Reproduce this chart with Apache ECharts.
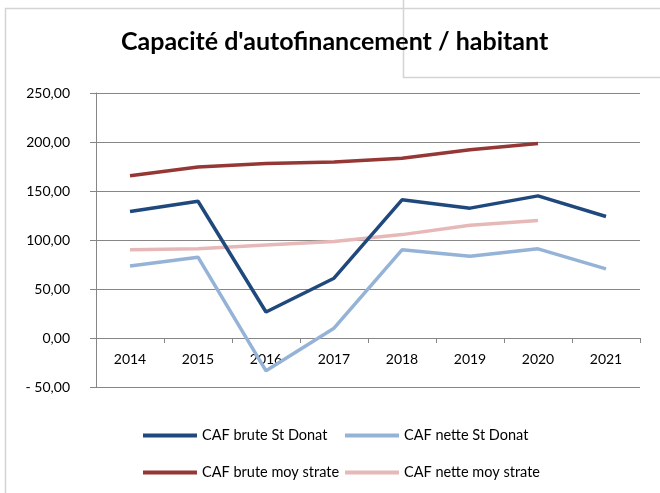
<!DOCTYPE html>
<html>
<head>
<meta charset="utf-8">
<script src="https://cdn.jsdelivr.net/npm/echarts@6/dist/echarts.min.js"></script>
<style>
	html, body { margin: 0; padding: 0; background: #fff; }
	#chart { width: 660px; height: 493px; }
</style>
</head>
<body>
<div id="chart"></div>
<script>
;
(function() {

	var chart = echarts.init(document.getElementById('chart'));

	// données
	var years = ['2014', '2015', '2016', '2017', '2018', '2019', '2020', '2021'];
	var cafBruteDonat = [129, 139.5, 26.5, 61, 141, 132.5, 145, 124];
	var cafNetteDonat = [73.5, 82.5, -33.5, 10, 90, 83.5, 91, 70.5];
	var cafBruteStrate = [165.5, 174.5, 178, 179.5, 183.5, 192, 198.5, null];
	var cafNetteStrate = [90, 91, 95, 98.5, 105.5, 115, 120, null];

	var names = ['CAF brute St Donat', 'CAF nette St Donat', 'CAF brute moy strate', 'CAF nette moy strate'];
	var colors = ['#1F497D', '#95B3D7', '#953735', '#E6B9B8'];
	var values = [cafBruteDonat, cafNetteDonat, cafBruteStrate, cafNetteStrate];

	var font = 'Lato, "Open Sans", sans-serif';

	var series = [];
	for(var i = 0; i < names.length; i++) {
		series.push({
			name: names[i],
			type: 'line',
			data: values[i],
			symbol: 'none',
			smooth: false,
			color: colors[i],
			lineStyle: { width: 3.5, color: colors[i] },
			z: 10 - i
		});
	}

	// une légende par élément pour garder les colonnes alignées
	var legendPos = [[143, 428], [345, 428], [143, 465], [345, 465]];
	var legends = [];
	for(var j = 0; j < names.length; j++) {
		legends.push({
			data: [names[j]],
			left: legendPos[j][0],
			top: legendPos[j][1],
			padding: 0,
			itemWidth: 54,
			itemHeight: 14,
			itemGap: 0,
			icon: 'path://M0,5 L54,5 L54,9 L0,9 Z',
			textStyle: { fontFamily: font, fontSize: 14.5, color: '#000' }
		});
	}

	var option = {
		backgroundColor: '#fff',
		animation: false,
		title: {
			text: "Capacité d'autofinancement / habitant",
			left: 121,
			top: 29,
			padding: 0,
			textStyle: { fontFamily: font, fontSize: 25, fontWeight: 'bold', color: '#000' }
		},
		legend: legends,
		grid: { left: 96, right: 20, top: 93, bottom: 106 },
		xAxis: {
			type: 'category',
			data: years,
			boundaryGap: true,
			// l'axe des catégories passe par la valeur 0
			axisLine: { onZero: false, lineStyle: { color: '#868686', width: 1 } },
			offset: -49,
			axisTick: { show: true, length: 5, inside: false, lineStyle: { color: '#868686' } },
			axisLabel: { fontFamily: font, fontSize: 14, color: '#000', margin: 14 },
			splitLine: { show: false }
		},
		yAxis: {
			type: 'value',
			min: -50,
			max: 250,
			interval: 50,
			axisLine: { show: true, lineStyle: { color: '#868686', width: 1 } },
			axisTick: { show: true, length: 6, lineStyle: { color: '#868686' } },
			axisLabel: {
				fontFamily: font, fontSize: 14, color: '#000', margin: 26,
				align: 'right',
				formatter: function(v) {
					var s = Math.abs(v).toFixed(2).replace('.', ',');
					return v < 0 ? '- ' + s : s;
				}
			},
			splitLine: { show: true, lineStyle: { color: '#868686', width: 1 } }
		},
		graphic: [
			// cadre du graphique
			{ type: 'polyline', shape: { points: [[5.5, 493], [5.5, 8.5], [660, 8.5]] }, style: { stroke: '#d4d4d4', lineWidth: 1.5, fill: null } },
			{ type: 'polyline', shape: { points: [[403.5, 0], [403.5, 77.5], [660, 77.5]] }, style: { stroke: '#d4d4d4', lineWidth: 1.5, fill: null } }
		],
		series: series
	};

	chart.setOption(option);

}());
</script>
</body>
</html>
